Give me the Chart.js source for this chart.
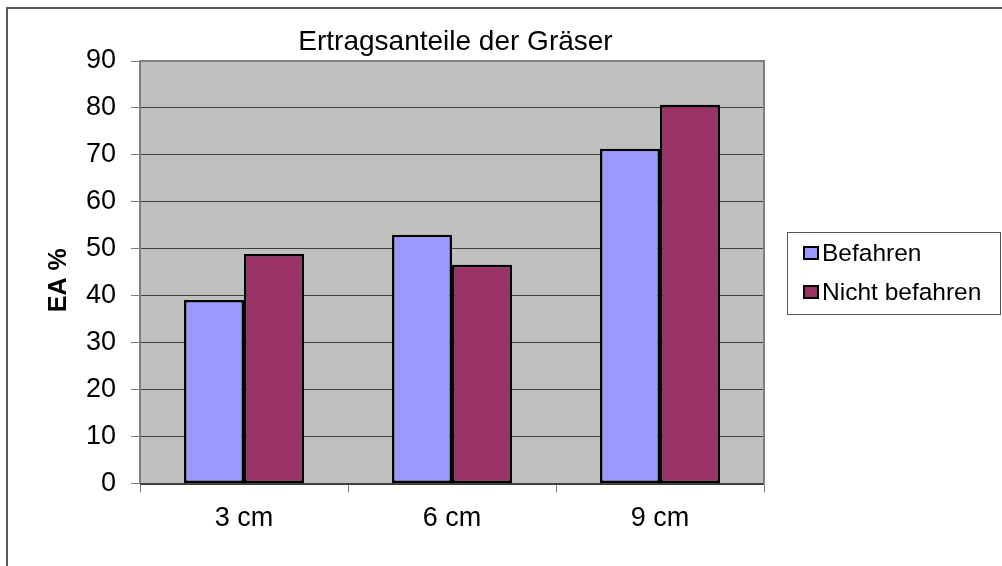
<!DOCTYPE html>
<html>
<head>
<meta charset="utf-8">
<script src="https://cdn.jsdelivr.net/npm/chart.js@4.4.0/dist/chart.umd.min.js"></script>
<style>
  html, body { margin: 0; padding: 0; background: #ffffff; }
  #wrap { width: 1002px; height: 566px; position: relative; }
</style>
</head>
<body>
<div id="wrap"><canvas id="c" width="1002" height="566"></canvas></div>
<script>
const categories = ['3 cm', '6 cm', '9 cm'];
const befahren = [39.1, 53.0, 71.3];
const nichtBefahren = [48.9, 46.6, 80.7];
const seriesNames = ['Befahren', 'Nicht befahren'];
const yTicks = [0, 10, 20, 30, 40, 50, 60, 70, 80, 90];
const chartTitle = 'Ertragsanteile der Gräser';
const yTitle = 'EA %';

const FONT = '"Liberation Sans", Arial, sans-serif';

// Plot background, plot frame, outer frame, title, axis title and legend box
const decor = {
  id: 'decor',
  beforeDraw(chart) {
    const { ctx, chartArea: a } = chart;
    ctx.save();
    ctx.fillStyle = '#ffffff';
    ctx.fillRect(0, 0, chart.width, chart.height);
    ctx.strokeStyle = '#5a5a5a';
    ctx.lineWidth = 2;
    ctx.strokeRect(7, 8, 1000, 566);
    ctx.fillStyle = '#c0c0c0';
    ctx.fillRect(a.left, a.top, a.right - a.left, a.bottom - a.top);
    ctx.restore();
  },
  afterDatasetsDraw(chart) {
    const { ctx, chartArea: a } = chart;
    ctx.save();
    ctx.strokeStyle = '#808080';
    ctx.lineWidth = 2;
    ctx.beginPath();
    ctx.moveTo(a.left, a.bottom);
    ctx.lineTo(a.left, a.top);
    ctx.lineTo(a.right, a.top);
    ctx.lineTo(a.right, a.bottom);
    ctx.stroke();
    ctx.strokeStyle = '#404040';
    ctx.lineWidth = 1;
    ctx.beginPath();
    ctx.moveTo(a.left, Math.round(a.bottom) + 0.5);
    ctx.lineTo(a.right, Math.round(a.bottom) + 0.5);
    ctx.stroke();

    // title
    ctx.fillStyle = '#000000';
    ctx.font = '28px ' + FONT;
    ctx.textAlign = 'center';
    ctx.textBaseline = 'alphabetic';
    ctx.fillText(chartTitle, 455.5, 49.5);

    // y axis title
    ctx.save();
    ctx.translate(66, (a.top + a.bottom) / 2 + 8);
    ctx.rotate(-Math.PI / 2);
    ctx.font = 'bold 25px ' + FONT;
    ctx.textAlign = 'center';
    ctx.fillText(yTitle, 0, 0);
    ctx.restore();

    // legend
    ctx.strokeStyle = '#555555';
    ctx.lineWidth = 1;
    ctx.strokeRect(787.5, 232.5, 213, 82);
    const rows = [253, 292];
    ctx.font = '24.5px ' + FONT;
    ctx.textAlign = 'left';
    ctx.textBaseline = 'middle';
    chart.data.datasets.forEach((ds, i) => {
      const cy = rows[i];
      ctx.fillStyle = ds.backgroundColor;
      ctx.fillRect(804, cy - 6, 14, 12);
      ctx.strokeStyle = '#000000';
      ctx.lineWidth = 2;
      ctx.strokeRect(804, cy - 6, 14, 12);
      ctx.fillStyle = '#000000';
      ctx.fillText(ds.label, 822, cy + 1);
    });
    ctx.restore();
  }
};

new Chart(document.getElementById('c'), {
  type: 'bar',
  data: {
    labels: categories,
    datasets: [
      { label: seriesNames[0], data: befahren, backgroundColor: '#9999ff',
        borderColor: '#000000', borderWidth: 2.5, borderSkipped: false },
      { label: seriesNames[1], data: nichtBefahren, backgroundColor: '#993366',
        borderColor: '#000000', borderWidth: 2.5, borderSkipped: false }
    ]
  },
  options: {
    responsive: false,
    animation: false,
    devicePixelRatio: 1,
    layout: { padding: { left: 0, top: 61, right: 238, bottom: 0 } },
    datasets: { bar: { categoryPercentage: 0.577, barPercentage: 1.0 } },
    plugins: { legend: { display: false }, title: { display: false }, tooltip: { enabled: false } },
    scales: {
      x: {
        offset: true,
        grid: { offset: true, drawOnChartArea: false, drawTicks: true, tickLength: 9,
                color: '#808080', tickColor: '#808080' },
        border: { display: false },
        ticks: { color: '#000000', font: { size: 27, family: FONT }, padding: 10, maxRotation: 0 },
        afterFit(s) { s.height = 82.5; }
      },
      y: {
        min: 0, max: 90,
        afterBuildTicks(s) { s.ticks = yTicks.map(v => ({ value: v })); },
        grid: { color: '#404040', lineWidth: 1, tickLength: 9, tickColor: '#808080' },
        border: { display: false },
        ticks: { color: '#000000', font: { size: 27, family: FONT }, padding: 15 },
        afterFit(s) { s.width = 140; }
      }
    }
  },
  plugins: [decor]
});
</script>
</body>
</html>
